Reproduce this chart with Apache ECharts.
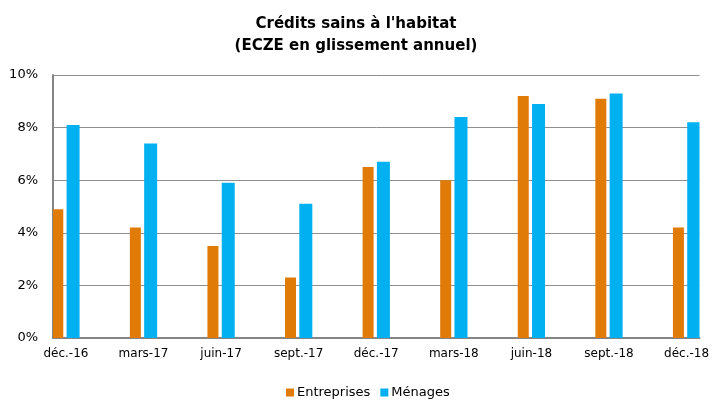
<!DOCTYPE html>
<html>
<head>
<meta charset="utf-8">
<script src="https://cdn.jsdelivr.net/npm/echarts@6/dist/echarts.min.js"></script>
<style>
  html, body { margin: 0; padding: 0; background: #fff; }
  #chart { width: 712px; height: 401px; }
</style>
</head>
<body>
<div id="chart"></div>
<script>
// monthly slots (Excel date axis), data only on quarter ends
const months = [
  'déc.-16', 'janv.-17', 'févr.-17', 'mars-17', 'avr.-17', 'mai-17', 'juin-17',
  'juil.-17', 'août-17', 'sept.-17', 'oct.-17', 'nov.-17', 'déc.-17',
  'janv.-18', 'févr.-18', 'mars-18', 'avr.-18', 'mai-18', 'juin-18',
  'juil.-18', 'août-18', 'sept.-18', 'oct.-18', 'nov.-18', 'déc.-18'
]
const quarters = ['déc.-16', 'mars-17', 'juin-17', 'sept.-17', 'déc.-17', 'mars-18', 'juin-18', 'sept.-18', 'déc.-18']
const entreprises = [4.9, 4.2, 3.5, 2.3, 6.5, 6.0, 9.2, 9.1, 4.2]
const menages = [8.1, 7.4, 5.9, 5.1, 6.7, 8.4, 8.9, 9.3, 8.2]

const toMonthly = (vals) => months.map(m => {
  const i = quarters.indexOf(m)
  return i < 0 ? '-' : vals[i]
})

const font = 'DejaVu Sans'
const chart = echarts.init(document.getElementById('chart'))

chart.setOption({
  animation: false,
  textStyle: { fontFamily: font },
  title: {
    text: "Crédits sains à l'habitat\n(ECZE en glissement annuel)",
    left: 'center',
    top: 8,
    padding: [5, 0, 5, 36],
    textStyle: { fontFamily: font, fontSize: 15, fontWeight: 'bold', color: '#000', lineHeight: 22 }
  },
  legend: {
    left: 281,
    top: 381,
    icon: 'rect',
    itemWidth: 8,
    itemHeight: 8,
    itemGap: 10,
    textStyle: { fontFamily: font, fontSize: 13, color: '#000', padding: [0, 0, 0, -2] },
    data: ['Entreprises', 'Ménages']
  },
  grid: { left: 53, right: 9, top: 75, bottom: 63 },
  xAxis: {
    type: 'category',
    data: months,
    axisLine: { lineStyle: { color: '#858585', width: 2 } },
    axisTick: { show: false },
    axisLabel: { interval: 2, fontSize: 12, color: '#000', margin: 10 }
  },
  yAxis: {
    type: 'value',
    min: 0,
    max: 10,
    interval: 2,
    axisLine: { show: true, lineStyle: { color: '#858585', width: 2 } },
    axisTick: { show: false },
    splitLine: { lineStyle: { color: '#8f8f8f', width: 1 } },
    axisLabel: { fontSize: 13, color: '#000', margin: 15, formatter: '{value}%' }
  },
  series: [
    {
      name: 'Entreprises',
      type: 'bar',
      data: toMonthly(entreprises),
      barWidth: 11,
      barGap: '30%',
      itemStyle: { color: '#E07B08' }
    },
    {
      name: 'Ménages',
      type: 'bar',
      data: toMonthly(menages),
      barWidth: 13,
      barGap: '30%',
      itemStyle: { color: '#00B0F0' }
    }
  ]
})
</script>
</body>
</html>
